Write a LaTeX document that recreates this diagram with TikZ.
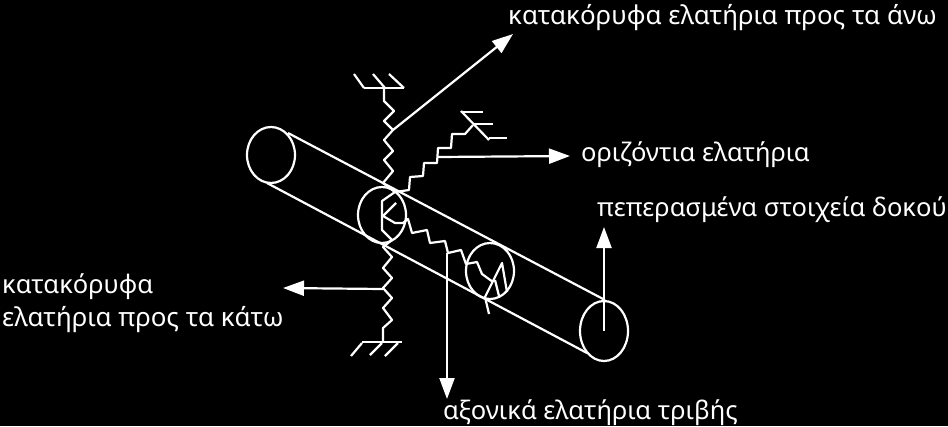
\documentclass[tikz,border=0pt]{standalone}
\usepackage{fontspec}
\setmainfont{Noto Sans}
\usetikzlibrary{arrows.meta}
\tikzset{
  wire/.style={draw=white,line width=2.2pt,line join=round},
  pointer/.style={draw=white,line width=2.2pt,-{Triangle[length=21pt,width=15pt,fill=white]}},
  lbl/.style={text=white,anchor=base west,inner sep=0pt,font=\fontsize{25.5}{30}\selectfont},
  lblwide/.style={lbl,font=\fontsize{25.9}{30}\selectfont}
}
\begin{document}
\begin{tikzpicture}[x=1pt,y=-1pt]
\fill[black] (0,0) rectangle (948,426);
\useasboundingbox (0,0) rectangle (948,426);
%
\node[lblwide] (topText) at (508,24) {κατακόρυφα ελατήρια προς τα άνω};
\node[lbl] (horText) at (581,161) {οριζόντια ελατήρια};
\node[lbl] (beamText) at (597,216) {πεπερασμένα στοιχεία δοκού};
\node[lbl] (lowTextA) at (2,293) {κατακόρυφα};
\node[lblwide] (lowTextB) at (2,326) {ελατήρια προς τα κάτω};
\node[lbl] (axText) at (443,419) {αξονικά ελατήρια τριβής};
%
\draw[wire] (271,155) ellipse (24 and 28);
\draw[wire] (604,331) ellipse (24 and 30);
\draw[wire] (382,215) ellipse (24 and 28);
\draw[wire] (490,271) ellipse (24 and 28);
\draw[wire] (288,133) -- (605,300);
\draw[wire] (267,183) -- (587,353);
% upper vertical spring
\draw[wire] (354,74) -- (364,88);
\draw[wire] (373,74) -- (385,88);
\draw[wire] (389,74) -- (404,88);
\draw[wire] (364,88) -- (404,88);
\draw[wire] (384,88) -- (384,101) -- (394,111) -- (384,121) -- (393,130) -- (384,140)
  -- (393,151) -- (384,160) -- (393,171) -- (383,183) -- (395,192);
% lower vertical spring
\draw[wire] (395,192) -- (382,201) -- (382,230) -- (392,240) -- (383,247) -- (392,257)
  -- (383,268) -- (392,278) -- (383,288) -- (392,298) -- (383,308) -- (392,320)
  -- (383,328) -- (383,342);
\draw[wire] (362,342) -- (402,342);
\draw[wire] (351,356) -- (362,343);
\draw[wire] (370,355) -- (382,343);
\draw[wire] (385,356) -- (398,343);
% horizontal spring
\draw[wire] (395,192) -- (409,190) -- (410,177) -- (423,176) -- (424,163) -- (437,163)
  -- (438,148) -- (451,148) -- (452,134) -- (465,134) -- (473,125);
\draw[wire] (461,111) -- (489,140);
\draw[wire] (461,112) -- (483,112);
\draw[wire] (473,124) -- (493,124);
\draw[wire] (489,138) -- (507,138);
% axial spring
\draw[wire] (396,203) -- (383,216) -- (395,223) -- (403,223) -- (408,219) -- (412,233)
  -- (427,230) -- (430,243) -- (445,241) -- (448,253) -- (461,250) -- (466,264)
  -- (477,262) -- (482,274) -- (493,282);
\draw[wire] (489,314) -- (485,297) -- (502,263) -- (507,292);
\draw[wire] (495,280) -- (499,296);
%
\coordinate (upStart) at (393,130);
\coordinate (upTip) at (513,34);
\coordinate (horStart) at (438,157);
\coordinate (horTip) at (570,156);
\coordinate (beamStart) at (604,331);
\coordinate (beamTip) at (604,227);
\coordinate (lowStart) at (383,289);
\coordinate (lowTip) at (283,288);
\coordinate (axStart) at (447,253);
\coordinate (axTip) at (447,399);
\draw[pointer] (upStart) -- (upTip);
\draw[pointer] (horStart) -- (horTip);
\draw[pointer] (beamStart) -- (beamTip);
\draw[pointer] (lowStart) -- (lowTip);
\draw[pointer] (axStart) -- (axTip);
\end{tikzpicture}
\end{document}
